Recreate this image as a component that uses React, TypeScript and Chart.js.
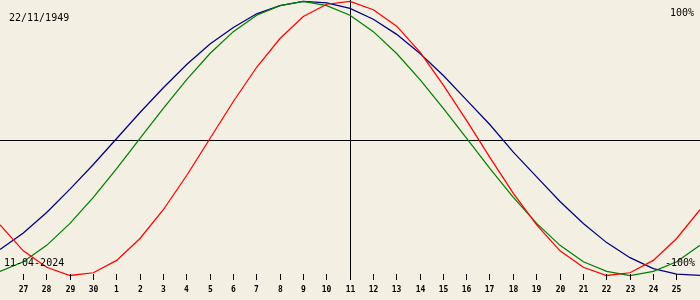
import React, { useEffect, useRef } from "react";
import { Chart, registerables } from "chart.js";

Chart.register(...registerables);

// Day labels shown on the axis ticks (positions 1..29)
const DAY_LABELS = [
  "27", "28", "29", "30", "1", "2", "3", "4", "5", "6", "7", "8", "9", "10",
  "11", "12", "13", "14", "15", "16", "17", "18", "19", "20", "21", "22", "23", "24", "25",
];
const BIRTH_DATE = "22/11/1949";
const TARGET_DATE = "11-04-2024";
const TOP_LABEL = "100%";
const BOTTOM_LABEL = "-100%";

// Biorhythm values (%) at day positions 0..30
const PHYSICAL = [
  -63, -82, -94, -100, -98, -89, -73, -52, -27, 0, 27, 52, 73, 89, 98, 100,
  94, 82, 63, 39, 13, -14, -40, -63, -82, -94, -100, -98, -89, -73, -52,
];
const EMOTIONAL = [
  -97, -90, -78, -62, -43, -22, 0, 22, 43, 62, 78, 90, 97, 100, 97, 90,
  78, 62, 43, 22, 0, -22, -43, -62, -78, -90, -97, -100, -97, -90, -78,
];
const INTELLECTUAL = [
  -81, -69, -54, -37, -19, 0, 19, 37, 54, 69, 81, 91, 97, 100, 99, 95,
  87, 76, 62, 46, 28, 10, -10, -28, -46, -62, -76, -87, -95, -99, -100,
];

const CENTER_INDEX = 15;
const BG = "rgb(243,239,227)";

const toPoints = (arr: number[]) => arr.map((v, i) => ({ x: i, y: v }));

const overlayPlugin = {
  id: "bioOverlay",
  beforeDatasetsDraw(chart: any) {
    const ctx = chart.ctx;
    const xs = chart.scales.x;
    const ys = chart.scales.y;
    const area = chart.chartArea;
    ctx.save();
    ctx.strokeStyle = "#000";
    ctx.lineWidth = 1;
    // horizontal axis
    const hy = Math.floor(ys.getPixelForValue(0)) + 2.5;
    ctx.beginPath();
    ctx.moveTo(area.left, hy);
    ctx.lineTo(area.right, hy);
    ctx.stroke();
    // vertical center line
    const cx = Math.floor(xs.getPixelForValue(CENTER_INDEX)) + 0.5;
    ctx.beginPath();
    ctx.moveTo(cx, area.top);
    ctx.lineTo(cx, area.top + 280);
    ctx.stroke();
    ctx.restore();
  },
  afterDatasetsDraw(chart: any) {
    const ctx = chart.ctx;
    const xs = chart.scales.x;
    const area = chart.chartArea;
    ctx.save();
    ctx.strokeStyle = "#000";
    ctx.fillStyle = "#000";
    ctx.lineWidth = 1;
    ctx.textAlign = "center";
    ctx.textBaseline = "alphabetic";
    ctx.font = "bold 8px 'DejaVu Sans Mono'";
    DAY_LABELS.forEach((lab, k) => {
      const px = Math.floor(xs.getPixelForValue(k + 1)) + 0.5;
      ctx.beginPath();
      ctx.moveTo(px, area.top + 274);
      ctx.lineTo(px, area.top + 280);
      ctx.stroke();
      ctx.fillText(lab, px, area.top + 292);
    });
    ctx.font = "10px 'DejaVu Sans Mono'";
    ctx.textAlign = "left";
    ctx.fillText(BIRTH_DATE, 9, 21);
    ctx.fillText(TARGET_DATE, 4, 266);
    ctx.textAlign = "right";
    ctx.fillText(TOP_LABEL, 694, 16);
    ctx.fillText(BOTTOM_LABEL, 695, 266);
    ctx.restore();
  },
};

export default function App() {
  const ref = useRef<HTMLCanvasElement | null>(null);
  useEffect(() => {
    if (!ref.current) return;
    const chart = new Chart(ref.current, {
      type: "line",
      data: {
        datasets: [
          {
            label: "Physical",
            data: toPoints(PHYSICAL),
            borderColor: "#ff0000",
            borderWidth: 1.25,
            pointRadius: 0,
            tension: 0,
          },
          {
            label: "Emotional",
            data: toPoints(EMOTIONAL),
            borderColor: "#008000",
            borderWidth: 1.25,
            pointRadius: 0,
            tension: 0,
          },
          {
            label: "Intellectual",
            data: toPoints(INTELLECTUAL),
            borderColor: "#000080",
            borderWidth: 1.25,
            pointRadius: 0,
            tension: 0,
          },
        ],
      },
      options: {
        animation: false,
        responsive: false,
        devicePixelRatio: 1,
        layout: { padding: 0 },
        plugins: { legend: { display: false }, tooltip: { enabled: false } },
        events: [],
        scales: {
          x: { type: "linear", min: 0, max: 30, display: false },
          y: { type: "linear", min: -117.89, max: 101.09, display: false },
        },
      },
      plugins: [overlayPlugin],
    });
    return () => chart.destroy();
  }, []);
  return (
    <div
      style={{
        position: "fixed",
        left: 0,
        top: 0,
        width: 700,
        height: 300,
        background: BG,
      }}
    >
      <canvas ref={ref} width={700} height={300} style={{ display: "block" }} />
    </div>
  );
}
